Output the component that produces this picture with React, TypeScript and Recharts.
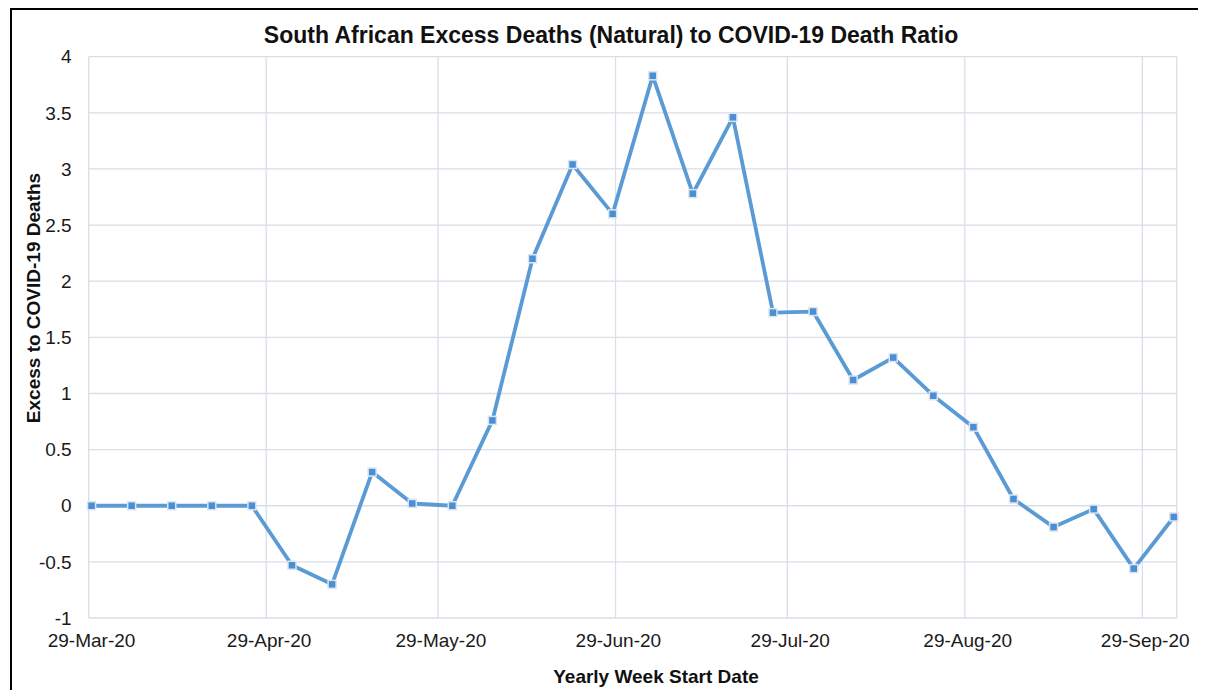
import React from "react";
import { LineChart, Line, XAxis, YAxis, CartesianGrid } from "recharts";

const weekStarts = [
  "2020-03-29", "2020-04-05", "2020-04-12", "2020-04-19", "2020-04-26",
  "2020-05-03", "2020-05-10", "2020-05-17", "2020-05-24", "2020-05-31",
  "2020-06-07", "2020-06-14", "2020-06-21", "2020-06-28", "2020-07-05",
  "2020-07-12", "2020-07-19", "2020-07-26", "2020-08-02", "2020-08-09",
  "2020-08-16", "2020-08-23", "2020-08-30", "2020-09-06", "2020-09-13",
  "2020-09-20", "2020-09-27", "2020-10-04",
];

const ratio = [
  0, 0, 0, 0, 0,
  -0.53, -0.7, 0.3, 0.02, 0.0,
  0.76, 2.2, 3.04, 2.6, 3.83,
  2.78, 3.46, 1.72, 1.73, 1.12,
  1.32, 0.98, 0.7, 0.06, -0.19,
  -0.03, -0.56, -0.1,
];

const tickDates = ["2020-03-29", "2020-04-29", "2020-05-29", "2020-06-29", "2020-07-29", "2020-08-29", "2020-09-29"];
const tickLabels = ["29-Mar-20", "29-Apr-20", "29-May-20", "29-Jun-20", "29-Jul-20", "29-Aug-20", "29-Sep-20"];
const yTicks = [-1, -0.5, 0, 0.5, 1, 1.5, 2, 2.5, 3, 3.5, 4];

const FONT = "'Liberation Sans', Arial, sans-serif";
const BLUE = "#5b9bd5";
const GRID = "#d9dee7";

// day number since epoch, so the x axis is a real date scale
const toDay = (iso: string) => {
  const [y, m, d] = iso.split("-").map(Number);
  return Date.UTC(y, m - 1, d) / 86400000;
};

const data = weekStarts.map((w, i) => ({ day: toDay(w), ratio: ratio[i] }));
const firstDay = toDay(weekStarts[0]);
const lastDay = toDay(weekStarts[weekStarts.length - 1]);
// Excel date axis: each day is a bin, gridlines on bin edges
const xTicks = tickDates.map((t) => toDay(t) - 0.5);
const labelFor = (v: number) => tickLabels[xTicks.indexOf(v)] ?? "";

const CHART_W = 1190;
const CHART_H = 680;
const PLOT_W = 1088;
const halfDay = PLOT_W / (lastDay - firstDay + 1) / 2;

const XTick = (props: any) => {
  const { x, y, payload } = props;
  return (
    <text x={x + halfDay} y={y + 13.5} textAnchor="middle" fontSize={19} fontFamily={FONT} fill="#1a1a1a">
      {labelFor(payload.value)}
    </text>
  );
};

const SquareDot = (props: any) => {
  const { cx, cy, index } = props;
  if (cx == null || cy == null) return null;
  return (
    <rect key={`dot-${index}`} x={cx - 4} y={cy - 4} width={8} height={8}
      fill="#4a8fd6" stroke="#dde4ee" strokeWidth={1.5} />
  );
};

const XTitle = () => (
  <text x={644} y={672.7} textAnchor="middle" fontSize={19} fontWeight="bold" fontFamily={FONT} fill="#111">
    Yearly Week Start Date
  </text>
);

const YTitle = () => (
  <text x={27.5} y={288} transform="rotate(-90, 27.5, 288)" textAnchor="middle"
    fontSize={19} fontWeight="bold" fontFamily={FONT} fill="#111">
    Excess to COVID-19 Deaths
  </text>
);

export default function App() {
  return (
    <div style={{
      position: "relative", marginLeft: 2, width: CHART_W, height: CHART_H,
      borderTop: "2px solid #000", borderLeft: "2px solid #000", background: "#fff",
    }}>
      <div style={{
        position: "absolute", left: 0, top: 13.8, width: 1198, textAlign: "center",
        fontFamily: FONT, fontSize: 23, lineHeight: "23px", fontWeight: "bold", color: "#111",
      }}>
        South African Excess Deaths (Natural) to COVID-19 Death Ratio
      </div>
      <LineChart width={CHART_W} height={CHART_H} data={data}
        margin={{ top: 46.7, right: 25.3, left: 0, bottom: 0 }}>
        <CartesianGrid stroke={GRID} strokeWidth={1.3} />
        <XAxis
          dataKey="day"
          type="number"
          domain={[firstDay - 0.5, lastDay + 0.5]}
          ticks={xTicks}
          interval={0}
          height={72}
          axisLine={false}
          tickLine={false}
          tickSize={0}
          tickMargin={15}
          tick={<XTick />}
          label={<XTitle />}
        />
        <YAxis
          type="number"
          domain={[-1, 4]}
          ticks={yTicks}
          interval={0}
          width={76.7}
          axisLine={false}
          tickLine={false}
          tickSize={0}
          tickMargin={17}
          tickFormatter={(v: number) => String(v)}
          tick={{ fontSize: 19, fontFamily: FONT, fill: "#1a1a1a" }}
          label={<YTitle />}
        />
        <Line
          type="linear"
          dataKey="ratio"
          stroke={BLUE}
          strokeWidth={3.8}
          strokeLinejoin="round"
          dot={<SquareDot />}
          activeDot={false}
          isAnimationActive={false}
        />
      </LineChart>
    </div>
  );
}
